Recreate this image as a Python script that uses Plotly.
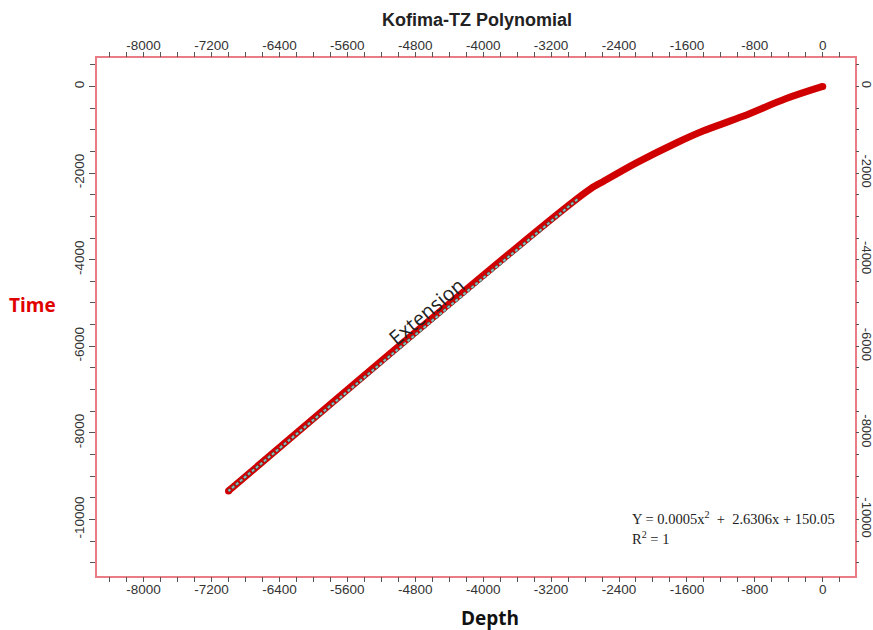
import plotly.graph_objects as go

# Measured time-depth pairs (depth on x, time on y)
depth_measured = [0, -430, -940, -1410, -1720, -2190, -2580, -2770]
time_measured = [0, -280, -690, -1030, -1300, -1760, -2190, -2410]

# Linear extension
depth_ext = [-2770, -7000]
time_ext = [-2410, -9340]

# dotted part of the extension
depth_dots = [-2890, -7000]
time_dots = [-2605, -9340]

# tick labels
x_tickvals = [-8000, -7200, -6400, -5600, -4800, -4000, -3200, -2400, -1600, -800, 0]
x_ticktext = ["-8000", "-7200", "-6400", "-5600", "-4800", "-4000", "-3200", "-2400",
              "-1600", "-800", "0"]
y_tickvals = [0, -2000, -4000, -6000, -8000, -10000]
y_ticktext = ["0", "-2000", "-4000", "-6000", "-8000", "-10000"]

x_range = [-8549, 380]
y_range = [-11304, 656]

RED = "#d00000"
AXLINE = "#e97c84"
TICKC = "#555555"
CLEAR = "rgba(0,0,0,0)"
TICKFONT = dict(family="Liberation Sans, Arial, sans-serif", size=13.5, color="#333333")

fig = go.Figure()

fig.add_trace(go.Scatter(
    x=depth_measured + depth_ext[1:], y=time_measured + time_ext[1:],
    mode="lines", line=dict(color=RED, width=7, shape="spline", smoothing=1.0),
    hoverinfo="skip", showlegend=False))
fig.add_trace(go.Scatter(
    x=[depth_measured[0], depth_ext[-1]], y=[time_measured[0], time_ext[-1]],
    mode="markers", marker=dict(color=RED, size=7),
    hoverinfo="skip", showlegend=False))
fig.add_trace(go.Scatter(
    x=depth_dots, y=time_dots, mode="lines",
    line=dict(color="#3f5f5c", width=3.2, dash="3px,2.2px"),
    hoverinfo="skip", showlegend=False))
fig.add_trace(go.Scatter(
    x=depth_dots, y=time_dots, mode="lines",
    line=dict(color="#8fbdb8", width=1.8, dash="3px,2.2px"),
    hoverinfo="skip", showlegend=False))
# invisible traces to activate the extra (mirror / tick) axes
for xa, ya in [("x2", "y2"), ("x3", "y"), ("x4", "y4")]:
    fig.add_trace(go.Scatter(
        x=depth_measured, y=time_measured, xaxis=xa, yaxis=ya,
        mode="lines", line=dict(width=0), opacity=0,
        hoverinfo="skip", showlegend=False))

base = dict(showgrid=False, zeroline=False, automargin=False)
lab = dict(**base, showline=True, linecolor=AXLINE, linewidth=1.5,
           ticks="outside", tickcolor=CLEAR, tickfont=TICKFONT, tickmode="array")
tk = dict(**base, showline=False, showticklabels=False, ticks="outside",
          tickcolor=TICKC, tickwidth=1, tickmode="linear", tick0=0)

fig.update_layout(
    width=873, height=630,
    margin=dict(l=97, r=18, t=58, b=54),
    paper_bgcolor="white", plot_bgcolor="white",
    showlegend=False,
    # bottom labels
    xaxis=dict(range=x_range, side="bottom", tickvals=x_tickvals, ticktext=x_ticktext,
               ticklen=0, **lab),
    # top labels
    xaxis2=dict(range=x_range, side="top", overlaying="x", anchor="y",
                tickvals=x_tickvals, ticktext=x_ticktext, ticklen=1, **lab),
    # bottom ticks
    xaxis3=dict(range=x_range, side="bottom", overlaying="x", anchor="y",
                dtick=200, ticklen=5, **tk),
    # top ticks
    xaxis4=dict(range=x_range, side="top", overlaying="x", anchor="y4",
                dtick=200, ticklen=5, **tk),
    yaxis=dict(range=y_range, side="left", tickvals=y_tickvals, ticktext=y_ticktext,
               tickangle=-90, ticklen=6, **{**lab, "tickcolor": TICKC},
               minor=dict(dtick=500, tick0=0, ticks="outside", ticklen=5, tickcolor=TICKC)),
    yaxis2=dict(range=y_range, side="right", overlaying="y", anchor="x",
                tickvals=y_tickvals, ticktext=y_ticktext, tickangle=90, ticklen=0,
                **{**lab, "tickfont": {**TICKFONT, "size": 13}}),
    yaxis4=dict(range=y_range, side="right", overlaying="y", anchor="x4",
                dtick=500, ticklen=3, **tk),
)

ann = [
    dict(text="<b>Kofima-TZ Polynomial</b>", x=0.5015, y=1.074,
         font=dict(family="Liberation Sans, Arial", size=18, color="#222222")),
    dict(text="<b>Time</b>", x=-0.0853, y=0.523,
         font=dict(family="Open Sans", size=19, color="#e00000")),
    dict(text="<b>Depth</b>", x=0.5187, y=-0.0818,
         font=dict(family="Open Sans", size=19, color="#111111")),
    dict(text="Y = 0.0005x<sup>2</sup>  +  2.6306x + 150.05", x=0.7033, y=0.1121,
         xanchor="left",
         font=dict(family="Liberation Serif, Times New Roman", size=14.5, color="#222222")),
    dict(text="R<sup>2</sup> = 1", x=0.7033, y=0.0729, xanchor="left",
         font=dict(family="Liberation Serif, Times New Roman", size=14.5, color="#222222")),
]
for a in ann:
    a.setdefault("xanchor", "center")
    a.update(xref="paper", yref="paper", yanchor="middle", showarrow=False)
ann.append(dict(text="Extension", xref="x", yref="y", x=-4671, y=-5196, textangle=-40,
                xanchor="center", yanchor="middle", showarrow=False,
                font=dict(family="Open Sans", size=20, color="#222222")))
fig.update_layout(annotations=ann)

fig.write_html("out.html")
